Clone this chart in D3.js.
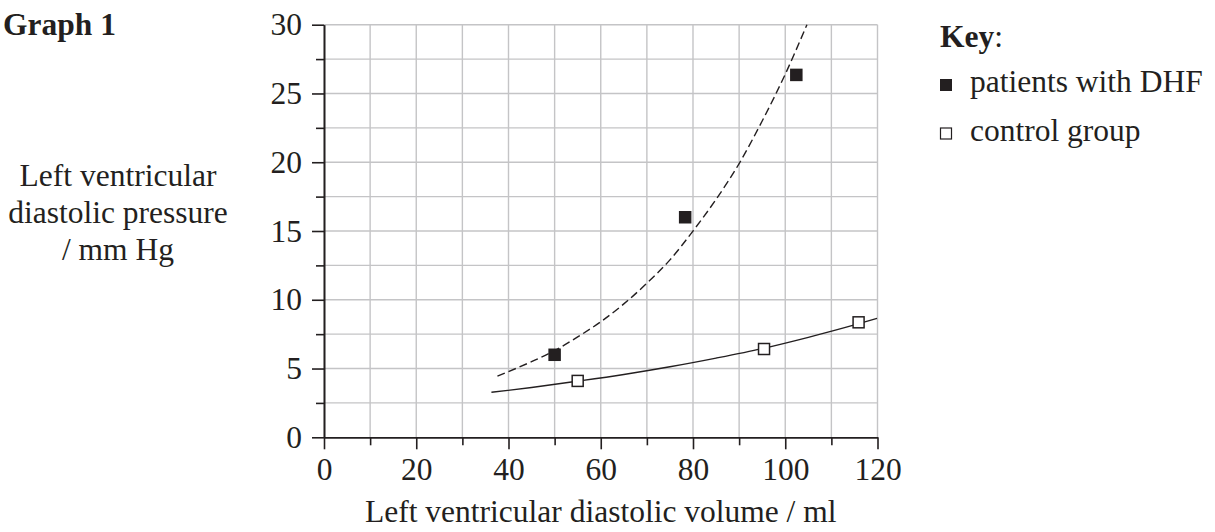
<!DOCTYPE html>
<html><head><meta charset="utf-8">
<script src="https://cdn.jsdelivr.net/npm/d3@7"></script>
<style>
html,body{margin:0;padding:0;background:#fff;}
svg{display:block;}
text{font-family:"Liberation Serif","Times New Roman",serif;fill:#231f20;}
</style></head>
<body>
<svg id="chart" width="1215" height="532"></svg>
<script>
// ---- data ----
const dhfX = [50, 78.3, 102.4];
const dhfY = [6.0, 16.0, 26.35];
const ctrlX = [55, 95.4, 115.9];
const ctrlY = [4.1, 6.42, 8.36];
// trend curves
const dhfCurveX = [37.6, 45, 50, 55, 60, 65, 70, 75, 80, 85, 90, 95, 100, 104.7];
const dhfCurveY = [4.45, 5.5, 6.3, 7.3, 8.4, 9.7, 11.2, 12.9, 15.0, 17.3, 19.9, 23.0, 26.4, 30.0];
const ctrlCurveX = [36.3, 45, 55, 65, 75, 85, 95, 105, 115, 119.9];
const ctrlCurveY = [3.27, 3.62, 4.08, 4.57, 5.13, 5.76, 6.45, 7.27, 8.17, 8.65];
const xMajorTicks = [0, 20, 40, 60, 80, 100, 120];
const xMinorTicks = [10, 30, 50, 70, 90, 110];
const yMajorTicks = [0, 5, 10, 15, 20, 25, 30];
const yMinorTicks = [2.5, 7.5, 12.5, 17.5, 22.5, 27.5];
const xGrid = d3.range(0, 121, 10);
const yGrid = d3.range(0, 30.01, 2.5);
const title = "Graph 1";
const xTitle = "Left ventricular diastolic volume / ml";
const yTitleLines = ["Left ventricular", "diastolic pressure", "/ mm Hg"];
const legendLabels = ["patients with DHF", "control group"];

const FS = 31.5;
const svg = d3.select("#chart");
const x = d3.scaleLinear().domain([0, 120]).range([324, 877.5]);
const y = d3.scaleLinear().domain([0, 30]).range([437.3, 24.7]);

// grid
const grid = svg.append("g").attr("stroke", "#c4c4c6").attr("stroke-width", 1.4);
grid.selectAll("line.v").data(xGrid.filter(d => d > 0)).join("line")
  .attr("x1", d => x(d)).attr("x2", d => x(d)).attr("y1", y(0)).attr("y2", y(30));
grid.selectAll("line.h").data(yGrid.filter(d => d > 0)).join("line")
  .attr("x1", x(0)).attr("x2", x(120)).attr("y1", d => y(d)).attr("y2", d => y(d));

// axes
function styleAxis(g) {
  g.select(".domain").attr("stroke", "#231f20").attr("stroke-width", 1.6);
  g.selectAll(".tick line").attr("stroke", "#231f20").attr("stroke-width", 1.6);
  g.selectAll(".tick text").attr("font-family", '"Liberation Serif","Times New Roman",serif')
    .attr("font-size", FS).attr("fill", "#231f20");
}
svg.append("g").attr("transform", `translate(0,${y(0)})`)
  .call(d3.axisBottom(x).tickValues(xMinorTicks).tickSize(8).tickFormat("").tickSizeOuter(0))
  .call(styleAxis);
svg.append("g").attr("transform", `translate(0,${y(0)})`)
  .call(d3.axisBottom(x).tickValues(xMajorTicks).tickSize(12).tickPadding(8).tickSizeOuter(0).tickFormat(d3.format("d")))
  .call(styleAxis);
svg.append("g").attr("transform", `translate(${x(0)},0)`)
  .call(d3.axisLeft(y).tickValues(yMinorTicks).tickSize(8).tickFormat("").tickSizeOuter(0))
  .call(styleAxis);
svg.append("g").attr("transform", `translate(${x(0)},0)`)
  .call(d3.axisLeft(y).tickValues(yMajorTicks).tickSize(12).tickPadding(10).tickSizeOuter(0).tickFormat(d3.format("d")))
  .call(styleAxis);

// curves
const line = d3.line().x(d => x(d[0])).y(d => y(d[1])).curve(d3.curveMonotoneX);
svg.append("path").datum(dhfCurveX.map((v, i) => [v, dhfCurveY[i]]))
  .attr("d", line).attr("fill", "none").attr("stroke", "#231f20")
  .attr("stroke-width", 1.4).attr("stroke-dasharray", "8,4");
svg.append("path").datum(ctrlCurveX.map((v, i) => [v, ctrlCurveY[i]]))
  .attr("d", line).attr("fill", "none").attr("stroke", "#231f20").attr("stroke-width", 1.4);

// markers
const S = 12.5;
svg.selectAll("rect.dhf").data(dhfX.map((v, i) => [v, dhfY[i]])).join("rect")
  .attr("x", d => x(d[0]) - S / 2).attr("y", d => y(d[1]) - S / 2)
  .attr("width", S).attr("height", S).attr("fill", "#231f20");
svg.selectAll("rect.ctrl").data(ctrlX.map((v, i) => [v, ctrlY[i]])).join("rect")
  .attr("x", d => x(d[0]) - (S - 1.5) / 2).attr("y", d => y(d[1]) - (S - 1.5) / 2)
  .attr("width", S - 1.5).attr("height", S - 1.5).attr("fill", "#fff")
  .attr("stroke", "#231f20").attr("stroke-width", 1.5);

// titles
svg.append("text").attr("x", 3).attr("y", 35).attr("font-size", FS).attr("font-weight", "bold").text(title);
svg.append("text").attr("x", (x(0) + x(120)) / 2).attr("y", 522).attr("text-anchor", "middle")
  .attr("font-size", FS).text(xTitle);
svg.append("g").selectAll("text").data(yTitleLines).join("text")
  .attr("x", 118).attr("y", (d, i) => 186 + i * 37).attr("text-anchor", "middle")
  .attr("font-size", FS).text(d => d);

// legend
const key = svg.append("text").attr("x", 940).attr("y", 47).attr("font-size", FS);
key.append("tspan").attr("font-weight", "bold").text("Key");
key.append("tspan").text(":");
const leg = svg.append("g");
legendLabels.forEach((lab, i) => {
  const by = 92 + i * 48.5;
  if (i === 0) {
    leg.append("rect").attr("x", 940).attr("y", by - 13).attr("width", 12).attr("height", 12).attr("fill", "#231f20");
  } else {
    leg.append("rect").attr("x", 940.5).attr("y", by - 12.5).attr("width", 11).attr("height", 11)
      .attr("fill", "#fff").attr("stroke", "#231f20").attr("stroke-width", 1.2);
  }
  leg.append("text").attr("x", 970).attr("y", by).attr("font-size", FS).text(lab);
});
</script>
</body></html>
